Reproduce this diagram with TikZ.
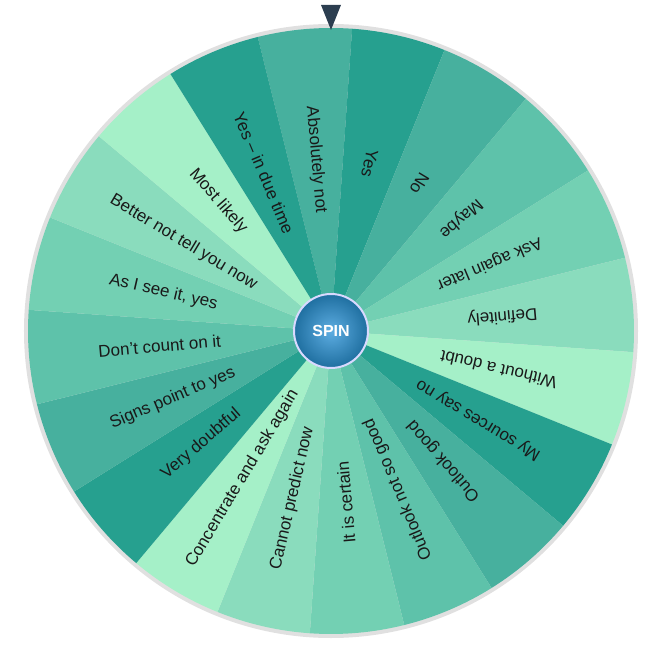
\documentclass[tikz,border=0pt]{standalone}
\usepackage{fontspec}
\setmainfont{Liberation Sans}
\definecolor{c1}{HTML}{26A08F}
\definecolor{c2}{HTML}{47B09E}
\definecolor{c3}{HTML}{5EC2AA}
\definecolor{c4}{HTML}{73D0B3}
\definecolor{c5}{HTML}{8ADCBD}
\definecolor{c6}{HTML}{A5F0C8}
\definecolor{pointer}{HTML}{2C3E50}
\definecolor{spinA}{HTML}{5DADE2}
\definecolor{spinB}{HTML}{1F6FA0}
\begin{document}
\begin{tikzpicture}[x=1pt,y=1pt,
  lbl/.style={font=\fontsize{17}{17}\selectfont, text=black!90}]
\useasboundingbox (-331,-329) rectangle (329,331);
\fill[black!12] (0,0) circle (307);
\foreach \lab/\col [count=\i from 0] in {
 Absolutely not/c2, Yes/c1, No/c2, Maybe/c3, Ask again later/c4, Definitely/c5,
 Without a doubt/c6, My sources say no/c1, Outlook good/c2, Outlook not so good/c3,
 It is certain/c4, Cannot predict now/c5, Concentrate and ask again/c6,
 Very doubtful/c1, Signs point to yes/c2, Don’t count on it/c3, {As I see it, yes}/c4,
 Better not tell you now/c5, Most likely/c6, Yes – in due time/c1}{
  \pgfmathsetmacro{\a}{95-18*\i}
  \fill[\col] (0,0) -- (\a+9:303) arc[start angle=\a+9, end angle=\a-9, radius=303] -- cycle;
  \node[lbl, rotate=\a+180] (t\i) at (\a:172) {\lab};
}
\node[circle, draw=white!85!blue, line width=2pt, minimum size=74pt,
  inner color=spinA, outer color=spinB, text=white,
  font=\bfseries\fontsize{16}{16}\selectfont] (spin) at (0,0) {SPIN};
\fill[pointer] (-10,326) -- (10,326) -- (0,301) -- cycle;
\end{tikzpicture}
\end{document}
